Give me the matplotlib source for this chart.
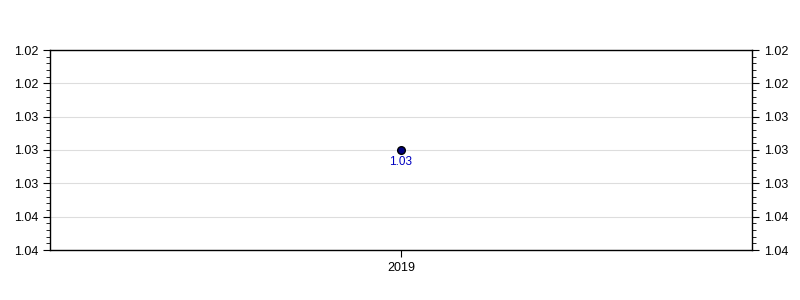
import matplotlib.pyplot as plt
from matplotlib.ticker import LinearLocator, AutoMinorLocator, FormatStrFormatter

plt.rcParams['font.family'] = ['Liberation Sans', 'DejaVu Sans']

years = ['2019']
values = [1.03]
point_labels = ['1.03']

fig = plt.figure(figsize=(8, 3), dpi=100)
ax = fig.add_axes([50 / 800, 50 / 300, 702 / 800, 200 / 300])

x = list(range(len(years)))
ax.plot(x, values, 'o', color='#000080', markeredgecolor='black',
        markersize=5.5, markeredgewidth=1, zorder=3)
for xi, v, lab in zip(x, values, point_labels):
    ax.annotate(lab, (xi, v), xytext=(0, -4), textcoords='offset points',
                ha='center', va='top', color='#0000c0', fontsize=8.5)

ax.set_xlim(-0.5, len(years) - 0.5)
ax.set_xticks(x)
ax.set_xticklabels(years)

# inverted axis, 7 evenly spaced ticks across the range
ax.set_ylim(1.039, 1.021)
ax.yaxis.set_major_locator(LinearLocator(7))
ax.yaxis.set_minor_locator(AutoMinorLocator(5))
ax.yaxis.set_major_formatter(FormatStrFormatter('%.2f'))
ax.tick_params(axis='y', which='both', left=True, right=True,
               labelleft=True, labelright=True, labelsize=9)
ax.tick_params(axis='y', which='major', length=5)
ax.tick_params(axis='y', which='minor', length=3)
ax.tick_params(axis='x', labelsize=9, length=5)
ax.grid(axis='y', color='#dddddd', linewidth=0.8)
ax.set_axisbelow(True)
for s in ax.spines.values():
    s.set_linewidth(1)

fig.savefig('out.png', dpi=100)
